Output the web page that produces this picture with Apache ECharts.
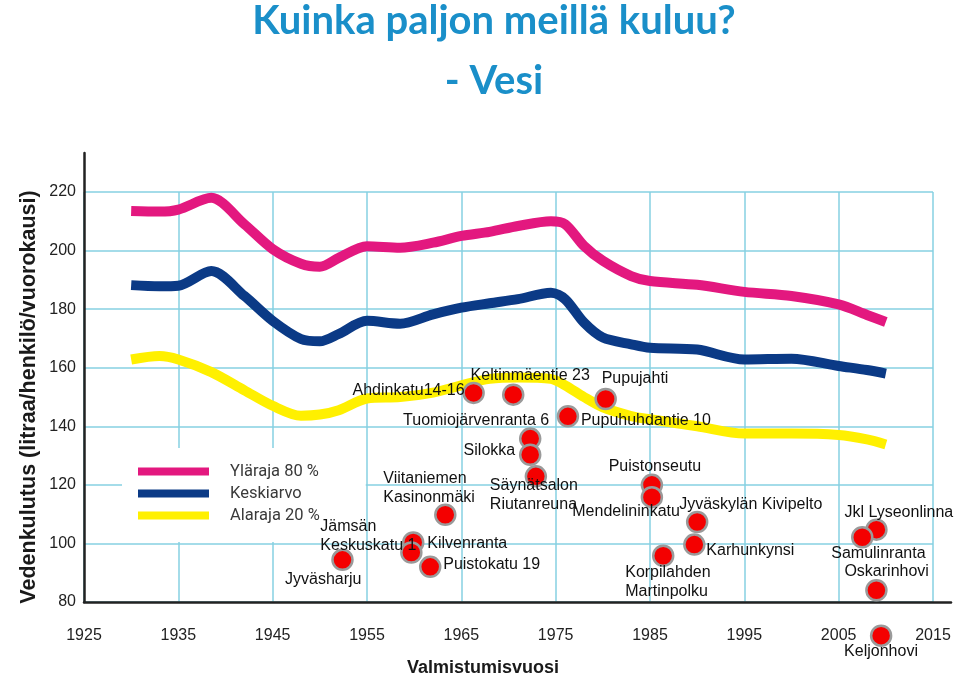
<!DOCTYPE html>
<html>
<head>
<meta charset="utf-8">
<script src="https://cdn.jsdelivr.net/npm/echarts@6/dist/echarts.min.js"></script>
<style>
  html, body { margin: 0; padding: 0; background: #fff; }
  #chart { width: 960px; height: 685px; }
</style>
</head>
<body>
<div id="chart"></div>
<script>
// valmistumisvuodet, joille käyrät on luettu
const vuodet = [1930, 1933, 1935, 1938.5, 1942, 1945, 1948, 1950, 1952, 1955, 1958.5, 1962, 1965, 1968,
  1971, 1974.5, 1976, 1978, 1980, 1983, 1985, 1990, 1995, 2000, 2005, 2008, 2010]
const ylaraja = [213.5, 213.3, 214, 218, 209, 200.5, 195.5, 194.5, 197.5, 201.5, 201, 202.7, 205, 206.4,
  208.4, 210, 209, 201.6, 196.5, 191.3, 189.6, 188.3, 185.9, 184.5, 181.6, 178, 175.6]
const keskiarvo = [188.2, 187.8, 188, 193, 184.5, 176, 169.8, 169, 171.5, 176, 175, 178.2, 180.5, 182,
  183.4, 185.6, 183.4, 175.4, 170.3, 168, 166.8, 166.2, 162.8, 163.1, 160.6, 159.2, 158]
const alaraja = [162.8, 164, 162.8, 158.5, 152.3, 147, 143.6, 144, 145.5, 149.5, 150, 151.5, 154, 156.2,
  156.7, 156.2, 154, 150, 146.5, 143.5, 142.4, 140, 137.5, 137.5, 137, 135.5, 133.8]

// kohteet
const kohteet = ['Ahdinkatu14-16', 'Keltinmäentie 23', 'Pupujahti', 'Pupuhuhdantie 10', 'Tuomiojärvenranta 6',
  'Silokka', 'Säynätsalon\nRiutanreuna', 'Viitaniemen\nKasinonmäki', 'Kilvenranta', 'Jämsän\nKeskuskatu 1',
  'Puistokatu 19', 'Jyväsharju', 'Puistonseutu', 'Mendelininkatu', 'Jyväskylän Kivipelto', 'Karhunkynsi',
  'Korpilahden\nMartinpolku', 'Jkl Lyseonlinna', 'Samulinranta', 'Oskarinhovi', 'Keljonhovi']
const kohdeVuodet = [1966.3, 1970.5, 1980.3, 1976.3, 1972.3, 1972.3, 1972.9, 1963.3, 1959.9, 1959.7,
  1961.7, 1952.4, 1985.2, 1985.2, 1990.0, 1989.7, 1986.4, 2009.0, 2007.5, 2009.0, 2009.5]
const kohdeArvot = [151.4, 150.8, 149.3, 143.4, 135.8, 130.3, 122.9, 109.8, 100.3, 96.9,
  92.0, 94.4, 120.0, 115.8, 107.3, 99.6, 95.8, 104.7, 102.1, 84.0, 68.5]

const xTicks = [1925, 2015, 10]
const yTicks = [80, 220, 20]

// nimien paikat pisteen suhteen: [align, dx, dy]
const nimiPaikat = {
  'Ahdinkatu14-16': ['right', -9, -2],
  'Keltinmäentie 23': ['center', 17, -19],
  'Pupujahti': ['left', -4, -20],
  'Pupuhuhdantie 10': ['left', 13, 4],
  'Tuomiojärvenranta 6': ['right', 19, -18],
  'Silokka': ['right', -15, -4],
  'Säynätsalon\nRiutanreuna': ['left', -46, 19],
  'Viitaniemen\nKasinonmäki': ['left', -62, -27],
  'Kilvenranta': ['left', 14, 1],
  'Jämsän\nKeskuskatu 1': ['left', -91, -16],
  'Puistokatu 19': ['left', 13, -2],
  'Jyväsharju': ['right', 19, 20],
  'Puistonseutu': ['center', 3, -18],
  'Mendelininkatu': ['right', 28, 14],
  'Jyväskylän Kivipelto': ['left', -18, -17],
  'Karhunkynsi': ['left', 12, 6],
  'Korpilahden\nMartinpolku': ['left', -38, 26],
  'Jkl Lyseonlinna': ['left', -32, -17],
  'Samulinranta': ['left', -31, 16],
  'Oskarinhovi': ['left', -32, -19],
  'Keljonhovi': ['left', -37, 16]
}

const gridColor = '#86d0e2'
const axisFont = 'Liberation Sans, Arial, sans-serif'

const chart = echarts.init(document.getElementById('chart'))

const lineSeries = (name, values, color) => ({
  name: name,
  type: 'line',
  data: vuodet.map((v, i) => [v, values[i]]),
  smooth: 0.3,
  showSymbol: false,
  color: color,
  lineStyle: { width: 10, color: color },
  z: 2
})

chart.setOption({
  animation: false,
  title: {
    text: 'Kuinka paljon meillä kuluu?\n- Vesi',
    left: 489,
    top: -14,
    textAlign: 'center',
    textStyle: {
      fontFamily: 'Lato, sans-serif',
      fontWeight: 'bold',
      fontSize: 40,
      lineHeight: 60,
      color: '#1a8fc9'
    }
  },
  legend: {
    data: ['Yläraja 80 %', 'Keskiarvo', 'Alaraja 20 %'],
    orient: 'vertical',
    left: 122,
    top: 448,
    padding: [15, 46, 18, 16],
    backgroundColor: '#fff',
    icon: 'rect',
    itemWidth: 71,
    itemHeight: 8,
    itemGap: 5,
    itemStyle: { borderWidth: 0 },
    textStyle: {
      fontFamily: 'Roboto, sans-serif',
      fontSize: 16.5,
      color: '#3a3a3a',
      padding: [0, 0, 0, 16]
    }
  },
  grid: [
    { left: 84, right: 27, top: 192, bottom: 83 },
    { left: 84, right: 9, top: 153, bottom: 83 }
  ],
  xAxis: [{
    type: 'value',
    min: xTicks[0],
    max: xTicks[1],
    interval: xTicks[2],
    name: 'Valmistumisvuosi',
    nameLocation: 'middle',
    nameGap: 57,
    nameTextStyle: {
      fontFamily: axisFont,
      fontWeight: 'bold',
      fontSize: 18,
      color: '#1a1a1a',
      padding: [0, 51, 0, 0]
    },
    axisLine: { show: false },
    axisTick: { show: false },
    axisLabel: {
      margin: 26,
      fontFamily: axisFont,
      fontSize: 16,
      color: '#222',
      formatter: (v) => String(v)
    },
    splitLine: { show: true, lineStyle: { color: gridColor, width: 1.5 } }
  }, {
    gridIndex: 1,
    type: 'value',
    min: 0,
    max: 1,
    axisLine: { show: true, lineStyle: { color: '#222', width: 2.5 } },
    axisTick: { show: false },
    axisLabel: { show: false },
    splitLine: { show: false }
  }],
  yAxis: [{
    type: 'value',
    min: yTicks[0],
    max: yTicks[1],
    interval: yTicks[2],
    name: 'Vedenkulutus (litraa/henkilö/vuorokausi)',
    nameLocation: 'middle',
    nameRotate: 90,
    nameGap: 44,
    nameMoveOverlap: false,
    nameTextStyle: {
      fontFamily: axisFont,
      fontWeight: 'bold',
      fontSize: 21.5,
      color: '#1a1a1a'
    },
    axisLine: { show: false },
    axisTick: { show: false },
    axisLabel: { margin: 8, fontFamily: axisFont, fontSize: 16, color: '#222' },
    splitLine: { show: true, lineStyle: { color: gridColor, width: 1.5 } }
  }, {
    gridIndex: 1,
    type: 'value',
    min: 0,
    max: 1,
    axisLine: { show: true, lineStyle: { color: '#222', width: 2.5 } },
    axisTick: { show: false },
    axisLabel: { show: false },
    splitLine: { show: false }
  }],
  series: [
    lineSeries('Yläraja 80 %', ylaraja, '#e3187f'),
    lineSeries('Keskiarvo', keskiarvo, '#0b3a86'),
    lineSeries('Alaraja 20 %', alaraja, '#fff000'),
    {
      name: 'Kohteet',
      type: 'scatter',
      clip: false,
      symbolSize: 20,
      z: 5,
      itemStyle: { color: '#f40000', borderColor: '#9a9a9a', borderWidth: 2.5, opacity: 1 },
      data: kohteet.map((nimi, i) => {
        const p = nimiPaikat[nimi]
        return {
          name: nimi,
          value: [kohdeVuodet[i], kohdeArvot[i]],
          label: {
            show: true,
            formatter: '{b}',
            position: 'inside',
            align: p[0],
            verticalAlign: 'middle',
            offset: [p[1], p[2]],
            fontFamily: axisFont,
            fontSize: 16,
            lineHeight: 19,
            color: '#111'
          }
        }
      })
    }
  ]
})
</script>
</body>
</html>
